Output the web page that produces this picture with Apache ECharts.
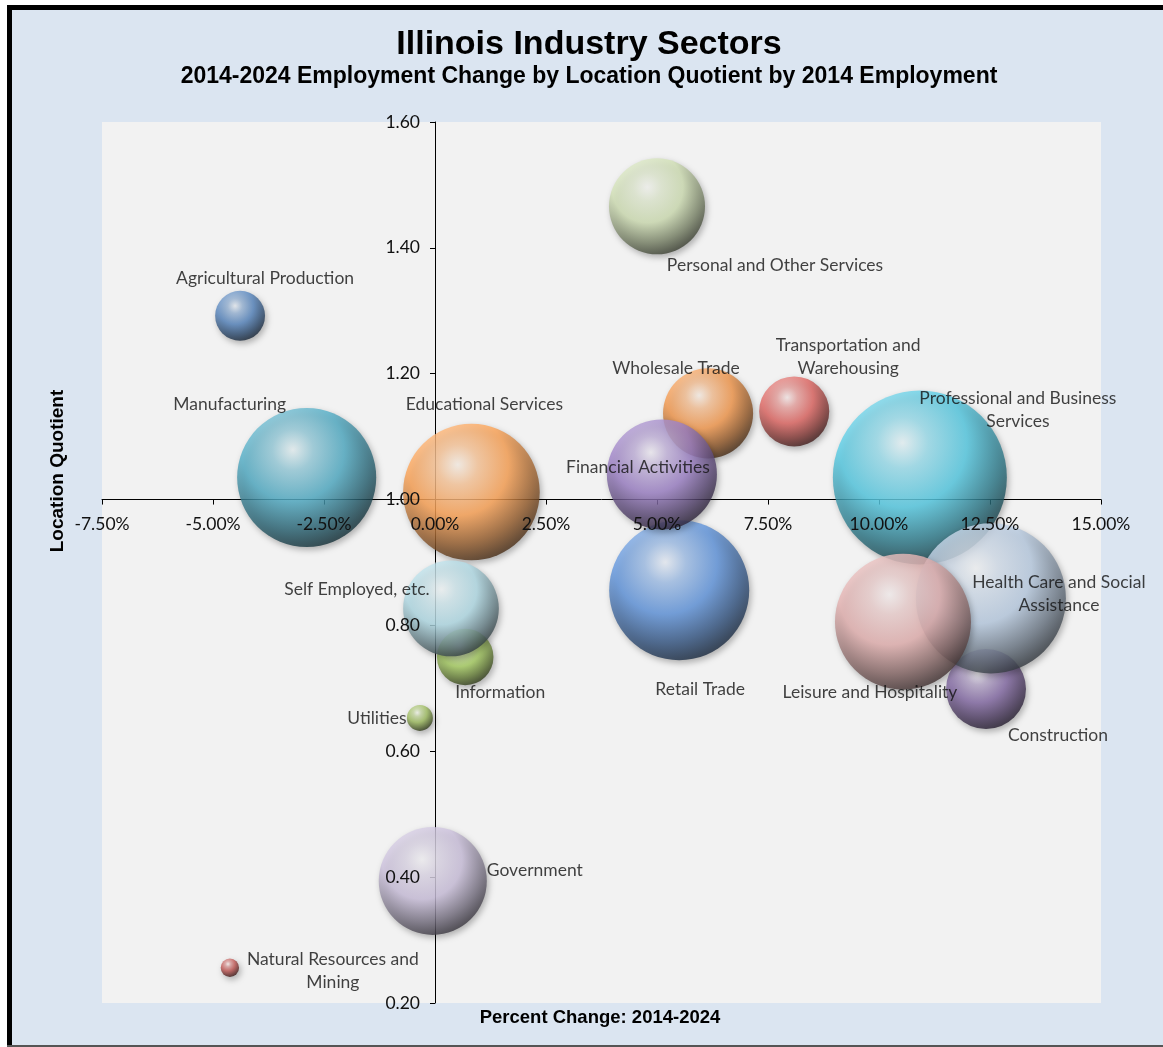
<!DOCTYPE html>
<html>
<head>
<meta charset="utf-8">
<script src="https://cdn.jsdelivr.net/npm/echarts@6/dist/echarts.min.js"></script>
<style>
html,body{margin:0;padding:0;background:#ffffff;overflow:hidden;}
#chart{width:1163px;height:1047px;}
</style>
</head>
<body>
<div id="chart"></div>
<script>
// ---- data ----
const categories = [
  'Agricultural Production',
  'Natural Resources and\nMining',
  'Utilities',
  'Construction',
  'Manufacturing',
  'Wholesale Trade',
  'Retail Trade',
  'Transportation and\nWarehousing',
  'Information',
  'Financial Activities',
  'Professional and Business\nServices',
  'Educational Services',
  'Health Care and Social\nAssistance',
  'Leisure and Hospitality',
  'Personal and Other Services',
  'Government',
  'Self Employed, etc.'
];
const percentChange = [-4.39, -4.62, -0.34, 12.41, -2.89, 6.15, 5.50, 8.09, 0.68, 5.11, 10.92, 0.82, 12.52, 10.54, 5.00, -0.05, 0.36];
const locationQuotient = [1.292, 0.256, 0.653, 0.699, 1.035, 1.137, 0.856, 1.140, 0.750, 1.040, 1.035, 1.012, 0.843, 0.806, 1.466, 0.394, 0.827];
const employment2014 = [74, 10, 20, 190, 575, 241, 583, 146, 95, 360, 900, 555, 669, 550, 274, 347, 272]; // thousands
const xTickMin = -7.5, xTickMax = 15, xTickStep = 2.5;
const yTickMin = 0.2, yTickMax = 1.6, yTickStep = 0.2;

// ---- styling ----
const pointColors = ['#4F81BD','#C0504D','#9BBB59','#8064A2','#4BACC6','#F79646',
  '#5B93DE','#E0605C','#A6CF5C','#9A7CC6','#4FCBE6','#FFA04E',
  '#B9CDE5','#E6B0AF','#D2E2B4','#CCC1DE','#B0DCE8'];
const labelOffsets = [[25,-37],[103,3],[-43,0],[72,46],[-77,-73],[-32,-45],[21,99],[54,-55],[35,35],
  [-24,-7],[98,-68],[13,-88],[68,-5],[-33,71],[118,59],[102,-11],[-94,-19]];

function hexToRgb(h){h=h.replace('#','');return [parseInt(h.substr(0,2),16),parseInt(h.substr(2,2),16),parseInt(h.substr(4,2),16)];}
function shade(hex,t){const c=hexToRgb(hex);const r=c.map(v=>t>=0?v+(255-v)*t:v*(1+t));return 'rgb('+r.map(v=>Math.round(v)).join(',')+')';}
function sphere(c){
  return {type:'radial',x:0.4,y:0.3,r:0.74,colorStops:[
    {offset:0,color:shade(c,0.9)},
    {offset:0.2,color:shade(c,0.45)},
    {offset:0.5,color:shade(c,0.05)},
    {offset:0.78,color:shade(c,-0.4)},
    {offset:1,color:shade(c,-0.75)}]};
}

const gridLeft=102, gridTop=122, gridW=999, gridH=881;
const xCross = 0, yCross = 1.0;
const xAxisOffset = -((yCross - yTickMin)/(yTickMax - yTickMin))*gridH;
const yAxisOffset = -((xCross - xTickMin)/(xTickMax - xTickMin))*gridW;
const sizeK = 2.9;

const labelFont = 'Lato';
const data = categories.map((n,i)=>({
  name:n,
  value:[percentChange[i], locationQuotient[i], employment2014[i]],
  itemStyle:{color:sphere(pointColors[i]), shadowBlur:6, shadowColor:'rgba(0,0,0,0.35)', shadowOffsetX:2, shadowOffsetY:3},
  label:{show:true, position:'inside', offset:labelOffsets[i], formatter:n, align:'center',
    color:'#111', fontFamily:labelFont, fontSize:17.5, lineHeight:23}
}));

const baseX = {type:'value', min:xTickMin, max:xTickMax, interval:xTickStep, position:'bottom', offset:xAxisOffset,
  splitLine:{show:false}};
const baseY = {type:'value', min:yTickMin, max:yTickMax, interval:yTickStep, position:'left', offset:yAxisOffset,
  splitLine:{show:false}};

const chart = echarts.init(document.getElementById('chart'), null, {renderer:'canvas'});
chart.setOption({
  animation:false,
  backgroundColor:'#ffffff',
  grid:{left:gridLeft, top:gridTop, width:gridW, height:gridH, show:true, backgroundColor:'#F2F2F2', borderWidth:0, containLabel:false},
  xAxis:[
    Object.assign({}, baseX, {z:0, axisLine:{show:true,onZero:false,lineStyle:{color:'#000',width:1}},
      axisTick:{show:true,inside:false,length:5,lineStyle:{color:'#000'}}, axisLabel:{show:false}}),
    Object.assign({}, baseX, {z:10, axisLine:{show:false,onZero:false}, axisTick:{show:false},
      axisLabel:{show:true, margin:16, color:'#111', fontFamily:labelFont, fontSize:17.5,
        formatter:v=>v.toFixed(2)+'%'}})
  ],
  yAxis:[
    Object.assign({}, baseY, {z:0, axisLine:{show:true,onZero:false,lineStyle:{color:'#000',width:1}},
      axisTick:{show:true,inside:false,length:5,lineStyle:{color:'#000'}}, axisLabel:{show:false}}),
    Object.assign({}, baseY, {z:10, axisLine:{show:false,onZero:false}, axisTick:{show:false},
      axisLabel:{show:true, margin:15, color:'#111', fontFamily:labelFont, fontSize:17.5,
        formatter:v=>v.toFixed(2)}})
  ],
  series:[{
    type:'scatter', xAxisIndex:0, yAxisIndex:0, z:2,
    symbol:'circle',
    symbolSize:d=>2*sizeK*Math.sqrt(d[2]),
    emphasis:{disabled:true},
    data:data
  }],
  graphic:{elements:[
    {type:'rect', z:-100, silent:true, shape:{x:7,y:5,width:1200,height:1045}, style:{fill:'#DBE5F1'}},
    {type:'rect', z:-99, silent:true, shape:{x:7,y:5,width:5,height:1045}, style:{fill:'#000'}},
    {type:'rect', z:-99, silent:true, shape:{x:7,y:5,width:1200,height:5}, style:{fill:'#000'}},
    {type:'rect', z:-99, silent:true, shape:{x:7,y:1045,width:1200,height:5}, style:{fill:'#555'}},
    {type:'text', z:100, x:589, y:45, style:{text:'Illinois Industry Sectors', font:'bold 34px "Liberation Sans", Arial, sans-serif', fill:'#000', textAlign:'center', textVerticalAlign:'middle'}},
    {type:'text', z:100, x:589, y:77, style:{text:'2014-2024 Employment Change by Location Quotient by 2014 Employment', font:'bold 23px "Liberation Sans", Arial, sans-serif', fill:'#000', textAlign:'center', textVerticalAlign:'middle'}},
    {type:'text', z:100, x:600, y:1018, style:{text:'Percent Change: 2014-2024', font:'bold 18.5px "Liberation Sans", Arial, sans-serif', fill:'#000', textAlign:'center', textVerticalAlign:'middle'}},
    {type:'text', z:100, x:58, y:471, rotation:Math.PI/2, style:{text:'Location Quotient', font:'bold 19px "Liberation Sans", Arial, sans-serif', fill:'#000', textAlign:'center', textVerticalAlign:'middle'}}
  ]}
});
</script>
</body>
</html>
